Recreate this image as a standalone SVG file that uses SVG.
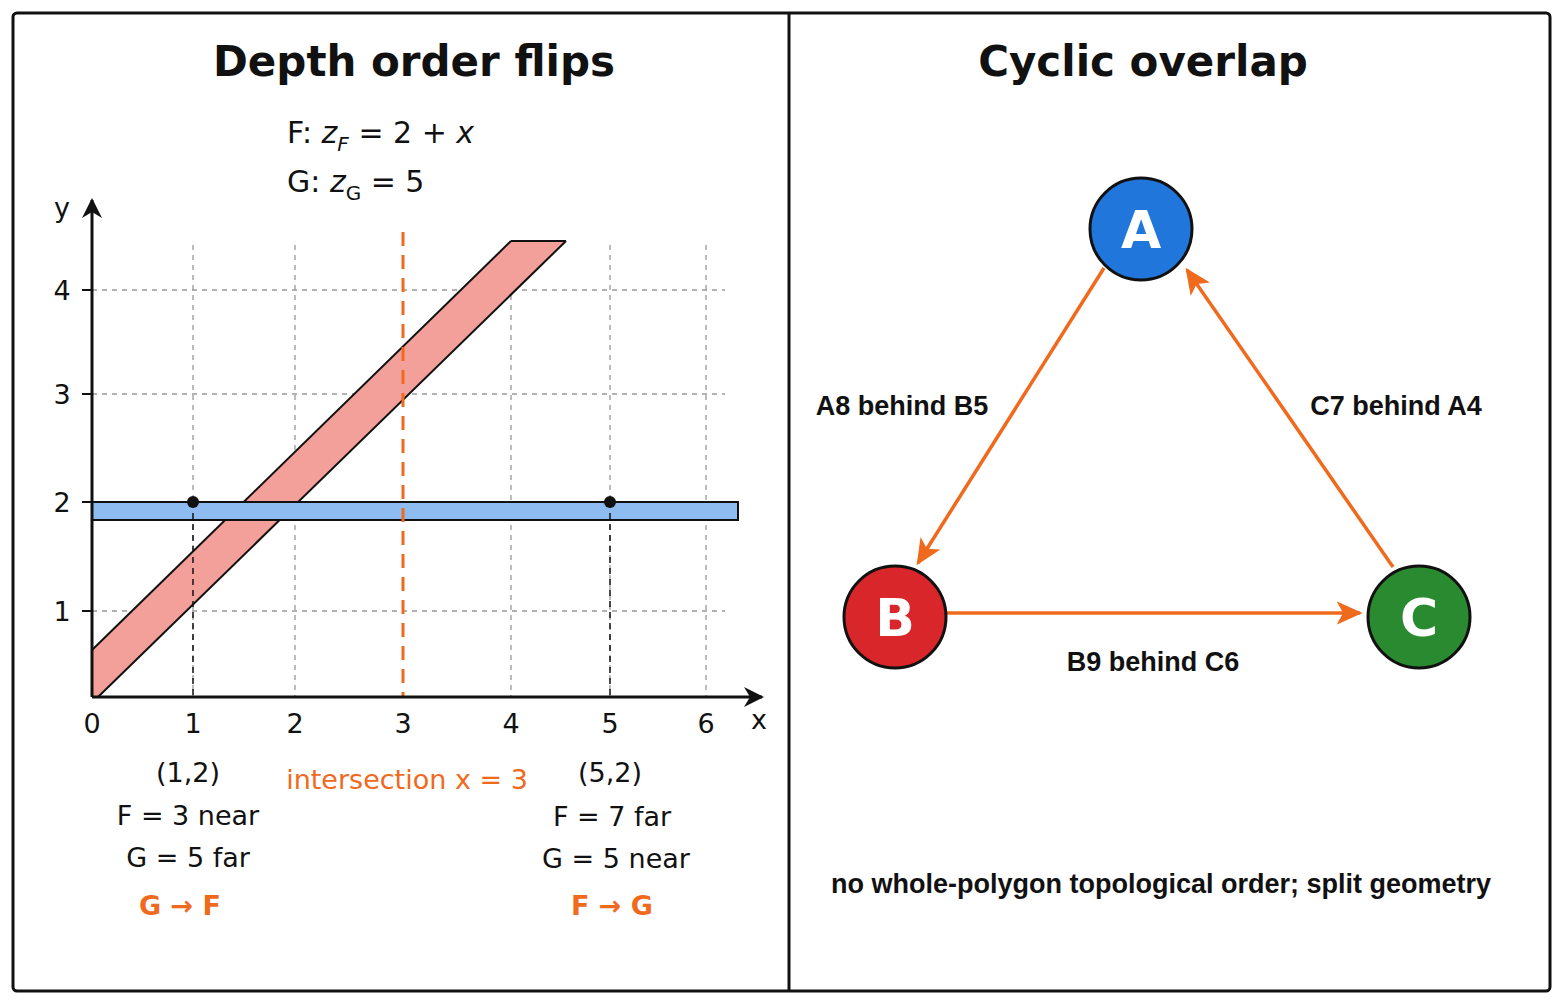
<svg xmlns="http://www.w3.org/2000/svg" width="1563" height="1006" viewBox="0 0 1563 1006">
<style>
text{font-family:"DejaVu Sans","Noto Sans",sans-serif;fill:#111}
.t{font-size:42px;font-weight:bold;text-anchor:middle}
.m{font-size:30px}
.ax{font-size:27px;text-anchor:middle}
.lb{font-size:27px;text-anchor:middle}
.rl{font-family:"Liberation Sans",Arial,sans-serif;font-size:27px;font-weight:bold;text-anchor:middle}
.or{fill:#f06a1e}
.g{stroke:#999;stroke-width:1.3;stroke-dasharray:5 5;fill:none}
.e{stroke:#f06a1e;stroke-width:3.5;fill:none}
.n{font-size:52px;font-weight:bold;fill:#fff;text-anchor:middle}
</style>
<defs>
<marker id="ar" viewBox="0 0 10 10" refX="9" refY="5" markerWidth="26" markerHeight="26" orient="auto" markerUnits="userSpaceOnUse"><path d="M0,0.5 L10,5 L0,9.5 L2.5,5 Z" fill="#f06a1e"/></marker>
<marker id="ak" viewBox="0 0 10 10" refX="9" refY="5" markerWidth="20" markerHeight="20" orient="auto" markerUnits="userSpaceOnUse"><path d="M0,0 L10,5 L0,10 L3,5 Z" fill="#111"/></marker>
</defs>
<rect x="0" y="0" width="1563" height="1006" fill="#fff"/>
<rect x="13" y="13" width="1537" height="978" fill="none" stroke="#111" stroke-width="3" rx="4"/>
<line x1="789" y1="13" x2="789" y2="991" stroke="#111" stroke-width="3"/>
<g id="left">
<text class="t" x="414" y="76">Depth order flips</text>
<text class="m" x="287" y="143">F: <tspan font-style="italic">z</tspan><tspan font-style="italic" font-size="20" dy="8">F</tspan><tspan dy="-8"> = 2 + </tspan><tspan font-style="italic">x</tspan></text>
<text class="m" x="287" y="192">G: <tspan font-style="italic">z</tspan><tspan font-size="20" dy="8">G</tspan><tspan dy="-8"> = 5</tspan></text>
<g>
<line class="g" x1="193" y1="245" x2="193" y2="697"/>
<line class="g" x1="295" y1="245" x2="295" y2="697"/>
<line class="g" x1="511" y1="245" x2="511" y2="697"/>
<line class="g" x1="610" y1="245" x2="610" y2="697"/>
<line class="g" x1="706" y1="245" x2="706" y2="697"/>
<line class="g" x1="92" y1="290" x2="725" y2="290"/>
<line class="g" x1="92" y1="394" x2="725" y2="394"/>
<line class="g" x1="92" y1="611" x2="725" y2="611"/>
</g>
<polygon points="92,650 511,241 566,241 98,697 92,697" fill="#f4a09a" stroke="none"/>
<line x1="92" y1="650" x2="511" y2="241" stroke="#111" stroke-width="2"/>
<line x1="98" y1="697" x2="566" y2="241" stroke="#111" stroke-width="2"/>
<line x1="511" y1="241" x2="566" y2="241" stroke="#111" stroke-width="2"/>
<rect x="92" y="502" width="646" height="18" fill="#8fbcf0" stroke="#111" stroke-width="2"/>
<line x1="403" y1="232" x2="403" y2="697" stroke="#f06a1e" stroke-width="3" stroke-dasharray="14 9"/>
<line x1="193" y1="502" x2="193" y2="697" stroke="#111" stroke-width="1.5" stroke-dasharray="6 5"/>
<line x1="610" y1="502" x2="610" y2="697" stroke="#111" stroke-width="1.5" stroke-dasharray="6 5"/>
<circle cx="193" cy="502" r="6" fill="#111"/>
<circle cx="610" cy="502" r="6" fill="#111"/>
<line x1="92" y1="697" x2="92" y2="200" stroke="#111" stroke-width="3" marker-end="url(#ak)"/>
<line x1="92" y1="697" x2="762" y2="697" stroke="#111" stroke-width="3" marker-end="url(#ak)"/>
<g stroke="#111" stroke-width="2"><line x1="82" y1="290" x2="92" y2="290"/><line x1="82" y1="394" x2="92" y2="394"/><line x1="82" y1="502" x2="92" y2="502"/><line x1="82" y1="611" x2="92" y2="611"/></g>
<text class="ax" x="62" y="217" font-size="30">y</text>
<text class="ax" x="62" y="300">4</text><text class="ax" x="62" y="404">3</text><text class="ax" x="62" y="512">2</text><text class="ax" x="62" y="621">1</text>
<text class="ax" x="92" y="733">0</text><text class="ax" x="193" y="733">1</text><text class="ax" x="295" y="733">2</text><text class="ax" x="403" y="733">3</text><text class="ax" x="511" y="733">4</text><text class="ax" x="610" y="733">5</text><text class="ax" x="706" y="733">6</text>
<text class="ax" x="759" y="729" font-size="30">x</text>
<text class="lb" x="188" y="782">(1,2)</text>
<text class="lb" x="188" y="825">F = 3 near</text>
<text class="lb" x="188" y="867">G = 5 far</text>
<text class="lb or" x="180" y="915" font-size="32" font-weight="bold">G → F</text>
<text class="lb or" x="407" y="789" font-size="26">intersection x = 3</text>
<text class="lb" x="610" y="782">(5,2)</text>
<text class="lb" x="612" y="826">F = 7 far</text>
<text class="lb" x="616" y="868">G = 5 near</text>
<text class="lb or" x="612" y="915" font-size="32" font-weight="bold">F → G</text>
</g>
<g id="right">
<text class="t" x="1143" y="76">Cyclic overlap</text>
<g id="connectors">
<line class="e" x1="1104" y1="268" x2="918" y2="563" marker-end="url(#ar)"/>
<line class="e" x1="1393" y1="567" x2="1187" y2="270" marker-end="url(#ar)"/>
<line class="e" x1="947" y1="613" x2="1360" y2="613" marker-end="url(#ar)"/>
</g>
<g id="nodeA"><circle cx="1141" cy="229" r="51" fill="#2176dc" stroke="#111" stroke-width="3"/><text class="n" x="1141" y="248">A</text></g>
<g id="nodeB"><circle cx="895" cy="617" r="51" fill="#d9262a" stroke="#111" stroke-width="3"/><text class="n" x="895" y="636">B</text></g>
<g id="nodeC"><circle cx="1419" cy="617" r="51" fill="#2a8a30" stroke="#111" stroke-width="3"/><text class="n" x="1419" y="636">C</text></g>
<text class="rl" x="902" y="415">A8 behind B5</text>
<text class="rl" x="1396" y="415">C7 behind A4</text>
<text class="rl" x="1153" y="671">B9 behind C6</text>
<text class="rl" x="1161" y="893">no whole-polygon topological order; split geometry</text>
</g>
</svg>
